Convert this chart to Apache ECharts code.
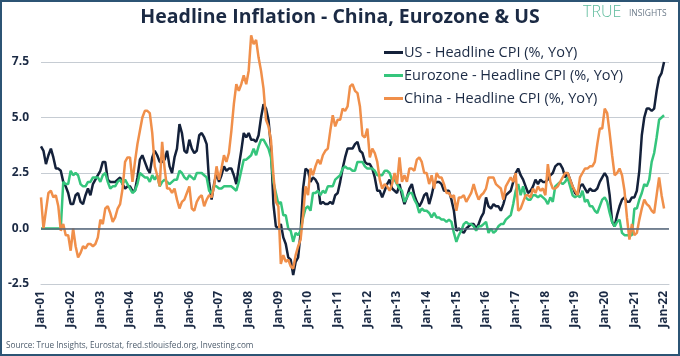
<!DOCTYPE html>
<html><head><meta charset="utf-8">
<script src="https://cdn.jsdelivr.net/npm/echarts/dist/echarts.min.js"></script>
<style>html,body{margin:0;padding:0;background:#fff}#c{width:680px;height:356px}</style>
</head><body><div id="c"></div>
<script>
const tickLabels = ['Jan-01','Jan-02','Jan-03','Jan-04','Jan-05','Jan-06','Jan-07','Jan-08','Jan-09','Jan-10','Jan-11','Jan-12','Jan-13','Jan-14','Jan-15','Jan-16','Jan-17','Jan-18','Jan-19','Jan-20','Jan-21','Jan-22'];
const seriesNames = ['US - Headline CPI (%, YoY)','Eurozone - Headline CPI (%, YoY)','China - Headline CPI (%, YoY)'];

// Monthly values Jan-2001 .. Jan-2022
const usCpi = [
3.7,3.5,2.9,3.3,3.6,3.2,2.7,2.7,2.6,2.1,1.9,1.6,
1.1,1.1,1.5,1.6,1.2,1.1,1.5,1.8,1.5,2.0,2.2,2.4,
2.6,3.0,3.0,2.2,2.1,2.1,2.1,2.2,2.3,2.0,1.8,1.9,
1.9,1.7,1.7,2.3,3.1,3.3,3.0,2.7,2.5,3.2,3.5,3.3,
3.0,3.0,3.1,3.5,2.8,2.5,3.2,3.6,4.7,4.3,3.5,3.4,
4.0,3.6,3.4,3.5,4.2,4.3,4.1,3.8,2.1,1.3,2.0,2.5,
2.1,2.4,2.8,2.6,2.7,2.7,2.4,2.0,2.8,3.5,4.3,4.1,
4.3,4.0,4.0,3.9,4.2,5.0,5.6,5.4,4.9,3.7,1.1,0.1,
0.0,0.2,-0.4,-0.7,-1.3,-1.4,-2.1,-1.5,-1.3,-0.2,1.8,2.7,
2.6,2.1,2.3,2.2,2.0,1.1,1.2,1.1,1.1,1.2,1.1,1.5,
1.6,2.1,2.7,3.2,3.6,3.6,3.6,3.8,3.9,3.5,3.4,3.0,
2.9,2.9,2.7,2.3,1.7,1.7,1.4,1.7,2.0,2.2,1.8,1.7,
1.6,2.0,1.5,1.1,1.4,1.8,2.0,1.5,1.2,1.0,1.2,1.5,
1.6,1.1,1.5,2.0,2.1,2.1,2.0,1.7,1.7,1.7,1.3,0.8,
-0.1,0.0,-0.1,-0.2,0.0,0.1,0.2,0.2,0.0,0.2,0.5,0.7,
1.4,1.0,0.9,1.1,1.0,1.0,0.8,1.1,1.5,1.6,1.7,2.1,
2.5,2.7,2.4,2.2,1.9,1.6,1.7,1.9,2.2,2.0,2.2,2.1,
2.1,2.2,2.4,2.5,2.8,2.9,2.9,2.7,2.3,2.5,2.2,1.9,
1.6,1.5,1.9,2.0,1.8,1.6,1.8,1.7,1.7,1.8,2.1,2.3,
2.5,2.3,1.5,0.3,0.1,0.6,1.0,1.3,1.4,1.2,1.2,1.4,
1.4,1.7,2.6,4.2,5.0,5.4,5.4,5.3,5.4,6.2,6.8,7.0,
7.5];

const ezCpi = [
0,0,0,0,0,0,0,0,0,2.1,2.0,2.0,
2.6,2.4,2.5,2.4,2.0,1.9,1.9,2.1,2.1,2.3,2.3,2.3,
2.1,2.4,2.5,2.1,1.8,1.9,1.9,2.1,2.2,2.0,2.2,2.0,
1.8,1.6,1.7,2.0,2.5,2.4,2.3,2.3,2.1,2.4,2.2,2.4,
1.9,2.1,2.2,2.1,2.0,2.1,2.2,2.2,2.6,2.5,2.3,2.2,
2.4,2.3,2.2,2.5,2.5,2.5,2.4,2.3,1.7,1.6,1.9,1.9,
1.8,1.8,1.9,1.9,1.9,1.9,1.8,1.7,2.1,2.6,3.1,3.1,
3.2,3.3,3.6,3.3,3.7,4.0,4.0,3.8,3.6,3.2,2.1,1.6,
1.1,1.2,0.6,0.6,0.0,-0.1,-0.6,-0.2,-0.3,-0.1,0.5,0.9,
1.0,0.8,1.6,1.6,1.7,1.5,1.7,1.6,1.9,1.9,1.9,2.2,
2.3,2.4,2.7,2.8,2.7,2.7,2.6,2.6,3.0,3.0,3.0,2.8,
2.7,2.7,2.7,2.6,2.4,2.4,2.4,2.6,2.6,2.5,2.2,2.2,
2.0,1.8,1.7,1.2,1.4,1.6,1.6,1.3,1.1,0.7,0.9,0.8,
0.8,0.7,0.5,0.7,0.5,0.5,0.4,0.4,0.3,0.4,0.3,-0.2,
-0.6,-0.3,-0.1,0.2,0.3,0.2,0.2,0.1,-0.1,0.1,0.1,0.2,
0.3,-0.2,0.0,-0.2,-0.1,0.1,0.2,0.2,0.4,0.5,0.6,1.1,
1.7,2.0,1.5,1.9,1.4,1.3,1.3,1.5,1.5,1.4,1.5,1.4,
1.3,1.1,1.4,1.2,1.9,2.0,2.1,2.0,2.1,2.3,1.9,1.5,
1.4,1.5,1.4,1.7,1.2,1.3,1.0,1.0,0.8,0.7,1.0,1.3,
1.4,1.2,0.7,0.3,0.1,0.3,0.4,-0.2,-0.3,-0.3,-0.3,-0.3,
0.9,0.9,1.3,1.6,2.0,1.9,2.2,3.0,3.4,4.1,4.9,5.0,
5.1];

const cnCpi = [
1.4,0.0,0.8,1.6,1.7,1.4,1.5,1.0,-0.1,0.2,-0.3,-0.3,
-1.0,0.0,-0.8,-1.3,-1.1,-0.8,-0.9,-0.7,-0.7,-0.8,-0.7,-0.4,
0.4,0.2,0.9,1.0,0.7,0.3,0.5,0.9,1.1,1.8,3.0,3.2,
3.2,2.1,3.0,3.8,4.4,5.0,5.3,5.3,5.2,4.3,2.8,2.4,
1.9,3.9,2.7,1.8,1.8,1.6,1.8,1.3,0.9,1.2,1.3,1.6,
1.9,0.9,0.8,1.2,1.4,1.5,1.0,1.3,1.5,1.4,1.9,2.8,
2.2,2.7,3.3,3.0,3.4,4.4,5.6,6.5,6.2,6.5,6.9,6.5,
7.1,8.7,8.3,8.5,7.7,7.1,6.3,4.9,4.6,4.0,2.4,1.2,
1.0,-1.6,-1.2,-1.5,-1.4,-1.7,-1.8,-1.2,-0.8,-0.5,0.6,1.9,
1.5,2.7,2.4,2.8,3.1,2.9,3.3,3.5,3.6,4.4,5.1,4.6,
4.9,4.9,5.4,5.3,5.5,6.4,6.5,6.2,6.1,5.5,4.2,4.1,
4.5,3.2,3.6,3.4,3.0,2.2,1.8,2.0,1.9,1.7,2.0,2.5,
2.0,3.2,2.1,2.4,2.1,2.7,2.7,2.6,3.1,3.2,3.0,2.5,
2.5,2.0,2.4,1.8,2.5,2.3,2.3,2.0,1.6,1.6,1.4,1.5,
0.8,1.4,1.4,1.5,1.2,1.4,1.6,2.0,1.6,1.3,1.5,1.6,
1.8,2.3,2.3,2.3,2.0,1.9,1.8,1.3,1.9,2.1,2.3,2.1,
2.5,0.8,0.9,1.2,1.5,1.5,1.4,1.8,1.6,1.9,1.7,1.8,
1.5,2.9,2.1,1.8,1.8,1.9,2.1,2.3,2.5,2.5,2.2,1.9,
1.7,1.5,2.3,2.5,2.7,2.7,2.8,2.8,3.0,3.8,4.5,4.5,
5.4,5.2,4.3,3.3,2.4,2.5,2.7,2.4,1.7,0.5,-0.5,0.2,
-0.3,-0.2,0.4,0.9,1.3,1.1,1.0,0.8,0.7,1.5,2.3,1.5,
0.9];

const dark = '#1b2a44';
const toPts = a => a.map((v, i) => [i, v]);
const chart = echarts.init(document.getElementById('c'), null, {renderer: 'canvas'});
const FONT = '"Open Sans", "DejaVu Sans", sans-serif';
chart.setOption({
  animation: false,
  textStyle: {fontFamily: FONT},
  grid: {left: 41, right: 11, top: 62, bottom: 72, containLabel: false},
  legend: {
    orient: 'vertical', left: 379, top: 40, itemGap: 8,
    itemWidth: 19, itemHeight: 3, icon: 'rect',
    textStyle: {color: dark, fontSize: 14.5, fontFamily: FONT, padding: [0, 0, 0, -4]},
    data: seriesNames
  },
  xAxis: {
    type: 'value', min: 0, max: 254, interval: 12,
    axisLine: {show: true, onZero: false, lineStyle: {color: '#c6ccd3', width: 1}},
    axisTick: {show: false},
    splitLine: {show: false},
    axisLabel: {
      rotate: 90, margin: 7, color: dark, fontWeight: 'bold', fontSize: 12, fontFamily: FONT,
      showMaxLabel: false, padding: [4, 0, 0, 0],
      formatter: v => (v % 12 === 0 && v / 12 < tickLabels.length) ? tickLabels[v / 12] : ''
    }
  },
  yAxis: {
    type: 'value', min: -2.5, max: 7.5, interval: 2.5,
    axisLine: {show: false}, axisTick: {show: false},
    splitLine: {lineStyle: {color: '#c6ccd3', width: 1}},
    axisLabel: {color: dark, fontWeight: 'bold', fontSize: 12, margin: 12, fontFamily: FONT,
      formatter: v => v.toFixed(1)}
  },
  series: [
    {name: seriesNames[0], type: 'line', data: toPts(usCpi), showSymbol: false, symbol: 'none', clip: false,
      lineStyle: {color: '#14213a', width: 2.5}, itemStyle: {color: '#14213a'},
      markLine: {silent: true, symbol: ['none', 'none'], label: {show: false},
        lineStyle: {color: '#55667a', width: 1.5, type: 'solid'}, data: [{yAxis: 0}]}},
    {name: seriesNames[1], type: 'line', data: toPts(ezCpi), showSymbol: false, symbol: 'none', clip: false,
      lineStyle: {color: '#35c57c', width: 2.5}, itemStyle: {color: '#35c57c'}},
    {name: seriesNames[2], type: 'line', data: toPts(cnCpi), showSymbol: false, symbol: 'none', clip: false,
      lineStyle: {color: '#f08f4a', width: 2.5}, itemStyle: {color: '#f08f4a'}}
  ],
  graphic: [
    {type: 'text', left: 'center', top: 7, style: {text: 'Headline Inflation - China, Eurozone & US',
      fill: dark, font: 'bold 19.5px ' + FONT}},
    {type: 'text', left: 583, top: 4, style: {text: 'TRUE', fill: '#5dbb9c', font: '300 16px ' + FONT}},
    {type: 'text', left: 629, top: 9, style: {text: 'INSIGHTS', fill: '#6c7b8a', font: '8.5px ' + FONT}},
    {type: 'text', left: 6, top: 342, style: {text: 'Source: True Insights, Eurostat, fred.stlouisfed.org, Investing.com',
      fill: '#4d5c6c', font: '8.2px ' + FONT}},
    {type: 'rect', shape: {x: 1, y: 1, width: 678, height: 354}, style: {fill: 'none', stroke: '#2c5474', lineWidth: 2}, silent: true}
  ]
});
</script></body></html>
